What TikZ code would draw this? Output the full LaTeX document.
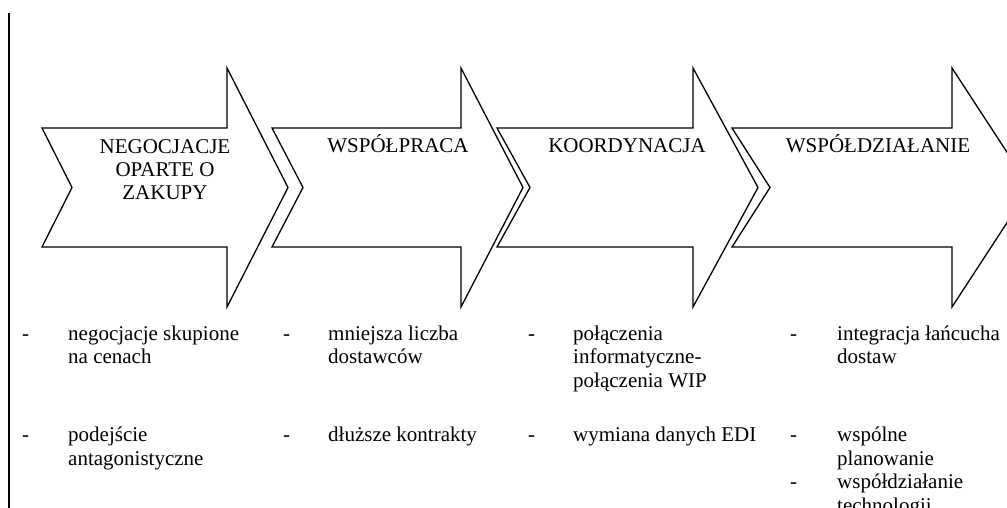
\documentclass[tikz,border=0pt]{standalone}
\usepackage{fontspec}
\setmainfont{Liberation Serif}
\begin{document}
\begin{tikzpicture}[x=1pt,y=-1pt,
  bigarrow/.style={draw=black,fill=white,line width=1.3pt,line join=miter},
  head/.style={font=\fontsize{21}{23.5}\selectfont,align=center,anchor=base,inner sep=0pt},
  item/.style={font=\fontsize{21}{23.5}\selectfont,align=left,anchor=base west,inner sep=0pt},
  dashmark/.style={font=\fontsize{21}{23.5}\selectfont,anchor=base west,inner sep=0pt}]
\clip (0,0) rectangle (1007,508);
\fill[white] (0,0) rectangle (1007,508);
% vertical rule
\coordinate (vtop) at (9,13);
\coordinate (vbot) at (9,508);
\draw[line width=1.4pt] (vtop) -- (vbot);
% arrows: (left x, notch x, shaft end x, tip x)
\foreach \l/\n/\s/\t in {42/72/227/288, 272/303/461/523, 497/530/693/758, 732/770/952/1030}{
  \draw[bigarrow] (\l,128) -- (\s,128) -- (\s,68) -- (\t,187.5) -- (\s,307) -- (\s,247) -- (\l,247) -- (\n,187.5) -- cycle;
}
% headings (base anchor = baseline of last line)
\node[head] (h1) at (165,200) {NEGOCJACJE\\OPARTE O\\ZAKUPY};
\node[head] (h2) at (398,153) {WSPÓŁPRACA};
\node[head] (h3) at (627,153) {KOORDYNACJA};
\node[head] (h4) at (878,153) {WSPÓŁDZIAŁANIE};
% column 1
\node[dashmark] (d11) at (22,340) {-};
\node[item] (t11) at (68,363.5) {negocjacje skupione\\na cenach};
\node[dashmark] (d12) at (22,441.5) {-};
\node[item] (t12) at (68,465) {podejście\\antagonistyczne};
% column 2
\node[dashmark] (d21) at (283,340) {-};
\node[item] (t21) at (328,363.5) {mniejsza liczba\\dostawców};
\node[dashmark] (d22) at (283,441.5) {-};
\node[item] (t22) at (328,441.5) {dłuższe kontrakty};
% column 3
\node[dashmark] (d31) at (528,340) {-};
\node[item] (t31) at (573,387) {połączenia\\informatyczne-\\połączenia WIP};
\node[dashmark] (d32) at (528,441.5) {-};
\node[item] (t32) at (573,441.5) {wymiana danych EDI};
% column 4
\node[dashmark] (d41) at (790,340) {-};
\node[item] (t41) at (837,363.5) {integracja łańcucha\\dostaw};
\node[dashmark] (d42) at (790,441.5) {-};
\node[item] (t42) at (837,465) {wspólne\\planowanie};
\node[dashmark] (d43) at (790,488.5) {-};
\node[item] (t43) at (837,512) {współdziałanie\\technologii};
\end{tikzpicture}
\end{document}
